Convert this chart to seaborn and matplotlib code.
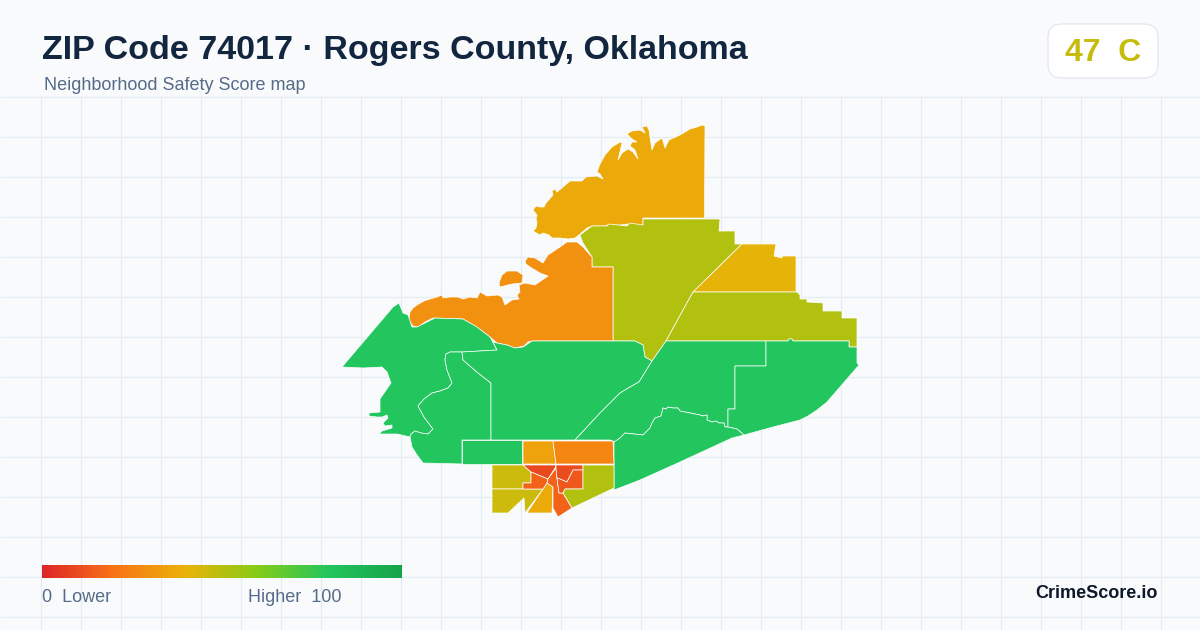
import numpy as np
import seaborn as sns
import matplotlib
matplotlib.use("Agg")
import matplotlib.pyplot as plt
from matplotlib.patches import FancyBboxPatch

TITLE = "ZIP Code 74017 · Rogers County, Oklahoma"
SUBTITLE = "Neighborhood Safety Score map"
BADGE = "47  C"
BADGE_SCORE = 47
BRAND = "CrimeScore.io"
LEGEND_LEFT = "0  Lower"
LEGEND_RIGHT = "Higher  100"
GRADIENT = ["#dc2626", "#f97316", "#eab308", "#84cc16", "#22c55e", "#16a34a"]

north_lake = [(705,126),(704.5,218),(643,218),(643,225),(629,226),(628,224),(620,225),(607,225),(606,226),(592,226),(587,228),(579,235),(575,238),(568,239),(560,238),(552,238),(549,235),(543,233),(540,235),(533,231),(536,228),(537,223),(536,218),(537,215),(533,210),(536,206),(540,207),(544,207),(546,203),(553,195),(552,191),(555,189),(557,192),(563,187),(570,181),(582,181),(586,177),(597,176),(603,179),(600,174),(597,172),(600,164),(605,155),(612,147),(620,142),(622,143),(618,160),(622,153),(628,149),(633,152),(638,159),(635,150),(630,146),(632,142),(637,142),(632,139),(627,134),(632,131),(640,130),(645,133),(642,127),(647,126),(649,130),(650,137),(652,150),(655,143),(662,138),(665,148),(669,140),(680,135),(690,129),(697,127),(702,125)]
north_center = [(643,219),(720,219),(719,231),(735,231),(735,244),(742,244),(693,292),(666,341),(652,361),(645,357),(643,345),(635,341),(613,341),(613,267),(592,267),(592,257),(583,243),(580,235),(592,226),(607,226),(609,224),(627,226),(630,223),(643,225)]
north_east = [(742,244),(776,244),(774,256),(782,258),(782,256),(796,256),(796,292),(693,292)]
east_band = [(693,292),(797,292),(800,295),(800,299),(807,299),(807,302),(823,303),(823,311),(842,311),(842,318),(857,318),(857,347),(849,347),(849,341),(793,341),(792,339),(789,339),(788,341),(666,341)]
west_lake = [(613,267),(613,341),(532,341),(528,342),(524,346),(515,348),(507,345),(497,343),(490,337),(478,328),(463,319),(433,318),(425,322),(418,327),(413,326),(410,322),(409,318),(410,312),(413,308),(417,305),(424,301),(430,299),(437,297),(442,295),(443,298),(450,297),(458,297),(463,299),(470,297),(477,298),(480,292),(487,296),(498,295),(502,297),(505,305),(512,300),(519,299),(517,295),(520,292),(519,285),(525,283),(535,285),(548,276),(540,273),(530,267),(526,264),(525,261),(528,257),(535,258),(543,263),(548,255),(554,251),(560,247),(567,242),(577,242),(583,247),(592,257),(592,267)]
lake_island = [(507,271),(517,271),(523,275),(522,283),(512,284),(500,287),(499,283),(502,275)]
west_tip = [(342,367),(393,307),(399,303),(403,313),(408,315),(412,327),(417,327),(435,318),(463,319),(477,327),(490,337),(497,350),(463,352),(450,352),(446,354),(445,360),(447,370),(452,383),(448,388),(440,391),(432,393),(424,399),(418,406),(424,417),(433,429),(428,434),(421,433),(415,431),(411,434),(410,437),(397,434),(379,434),(382,431),(392,428),(392,425),(385,426),(383,423),(388,418),(387,415),(382,417),(377,417),(369,416),(369,413),(380,412),(380,399),(391,383),(387,372),(382,367),(363,368)]
river_bend = [(410,437),(411,434),(415,431),(421,433),(428,434),(433,429),(424,417),(418,406),(424,399),(432,393),(440,391),(448,388),(452,383),(447,370),(445,360),(446,354),(450,352),(462,352),(463,360),(478,373),(491,383),(491,440),(462,440),(462,464),(423,463),(417,455),(412,447)]
center_north = [(493,342),(497,343),(507,345),(515,348),(523,347),(532,341),(635,341),(643,345),(645,357),(652,361),(639,382),(630,387),(620,393),(600,413),(575,440),(491,440),(491,383),(478,373),(463,360),(462,352),(497,350)]
river_block = [(462,440),(522,440),(522,464),(462,464)]
center_east = [(666,341),(766,341),(766,366),(735,366),(735,409),(728,409),(728,427),(725,427),(724,423),(719,423),(716,421),(712,422),(707,420),(707,415),(703,416),(700,415),(690,413),(685,412),(680,411),(678,408),(673,408),(668,407),(666,409),(663,408),(661,416),(655,418),(652,423),(650,428),(643,435),(634,434),(625,433),(620,438),(615,442),(610,440),(575,440),(600,413),(620,393),(630,387),(639,382),(652,361)]
far_east = [(766,341),(788,341),(789,339),(792,339),(793,341),(849,341),(849,347),(857,347),(857,363),(859,365),(840,387),(827,402),(817,410),(808,416),(800,420),(773,427),(744,435),(737,429),(728,427),(728,409),(735,409),(735,366),(766,366)]
south_shore = [(614,442),(620,438),(625,433),(634,434),(643,435),(650,428),(652,423),(655,418),(661,416),(663,408),(666,409),(668,407),(673,408),(678,408),(680,411),(685,412),(690,413),(700,415),(703,416),(707,415),(707,420),(712,422),(716,421),(719,423),(724,423),(725,427),(728,427),(737,429),(744,435),(732,438),(680,462),(640,480),(614,490)]
town_nw = [(523,441),(553,441),(556,464),(523,464)]
town_ne = [(553,441),(613,441),(614,464),(556,464)]
town_wn = [(492,465),(523,465),(531,472),(531,483),(523,483),(523,489),(492,489)]
town_ws = [(492,489),(543,489),(525,513),(524,498),(508,513),(492,513)]
town_s = [(547,483),(553,487),(552,513),(527,513)]
town_c1 = [(523,465),(556,465),(555,468),(548,479),(531,472)]
town_c2 = [(531,472),(548,479),(547,483),(543,489),(523,489),(523,483),(531,483)]
town_c3 = [(556,468),(557,478),(559,493),(563,493),(572,508),(558,517),(553,508),(553,487),(547,483),(548,479)]
town_c4 = [(556,465),(583,465),(583,470),(573,470),(567,482),(560,479),(557,478),(556,468)]
town_c5 = [(573,470),(583,470),(583,489),(565,489),(563,493),(559,493),(557,478),(560,479),(567,482)]
town_se = [(583,465),(614,465),(614,488),(572,508),(563,493),(565,489),(583,489)]

areas = [north_lake, north_center, north_east, east_band, west_lake, lake_island, west_tip, river_bend,
         center_north, river_block, center_east, far_east, south_shore, town_nw, town_ne, town_wn, town_ws,
         town_s, town_c1, town_c2, town_c3, town_c4, town_c5, town_se]
scores = [37, 51, 41, 51, 29, 29, 80, 80, 80, 80, 80, 80, 80, 35, 26, 46, 46, 37, 9, 16, 16, 10, 13, 51]

sns.set_theme(style="white")
plt.rcParams["font.family"] = ["Liberation Sans", "DejaVu Sans"]
BG = "#f8fafc"
GRID = "#e2ecf2"
NAVY = "#13263f"
SLATE = "#566b88"

fig = plt.figure(figsize=(12, 6.3), dpi=100, facecolor=BG)
ax = fig.add_axes([0, 0, 1, 1])
ax.set_xlim(0, 1200)
ax.set_ylim(630, 0)
ax.set_axis_off()

cmap = sns.blend_palette(GRADIENT, as_cmap=True)

ax.vlines(np.arange(40.5, 1200, 40), 96, 630, color=GRID, lw=0.8, zorder=1)
ax.hlines(np.arange(96.5, 630, 40), 0, 1200, color=GRID, lw=0.8, zorder=1)

for poly, score in zip(areas, scores):
    xs, ys = zip(*poly)
    ax.fill(xs, ys, facecolor=cmap(score / 100), edgecolor="white", lw=0.5, joinstyle="round", zorder=2)

ax.text(42, 50.5, TITLE, fontsize=24.5, fontweight="bold", color=NAVY, va="center", ha="left")
ax.text(44, 86, SUBTITLE, fontsize=12.95, color=SLATE, va="center", ha="left")

ax.add_patch(FancyBboxPatch((1062, 38), 82, 26, boxstyle="round,pad=14,rounding_size=14",
                            facecolor="white", edgecolor="#e2e8f0", lw=0.9, zorder=3))
ax.text(1103, 53, BADGE, fontsize=23, fontweight="bold", color=cmap(BADGE_SCORE / 100),
        va="center", ha="center", zorder=4)

ax.text(1158, 594, BRAND, fontsize=13, fontweight="bold", color="#0f172a", va="center", ha="right")
ax.text(42, 598, LEGEND_LEFT, fontsize=12.95, color=SLATE, va="center", ha="left")
ax.text(341, 598, LEGEND_RIGHT, fontsize=12.95, color=SLATE, va="center", ha="right")

leg = fig.add_axes([42 / 1200, 1 - 578 / 630, 360 / 1200, 13 / 630])
sns.heatmap(np.linspace(0, 100, 360).reshape(1, -1), ax=leg, cmap=cmap, vmin=0, vmax=100, cbar=False,
            xticklabels=False, yticklabels=False, linewidths=0, rasterized=True)

fig.savefig("out.png", dpi=100, facecolor=BG)
